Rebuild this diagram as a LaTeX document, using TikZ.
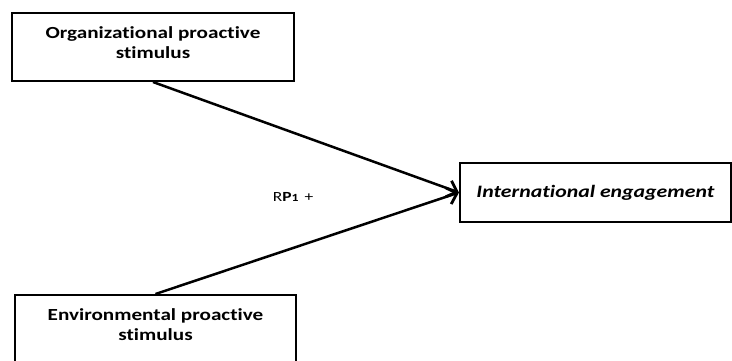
\documentclass[tikz,border=0pt]{standalone}
\usepackage{fontspec}
\setmainfont{Carlito}[FakeStretch=1.25, Ligatures=NoCommon]
\usetikzlibrary{arrows.meta}
\begin{document}
\begin{tikzpicture}[x=1bp,y=-1bp,
  box/.style={draw, line width=2bp, inner sep=0pt, align=center,
    font=\bfseries\fontsize{17}{20}\selectfont},
  link/.style={line width=2.5bp,
    -{Straight Barb[length=9bp,width=17bp,line width=2.8bp]}},
  lbl/.style={inner sep=0pt, font=\fontsize{14}{16}\selectfont}]
  \useasboundingbox (0,0) rectangle (732,360);
  \clip (0,0) rectangle (732,360);
  % stimulus boxes and outcome box
  \node[box, minimum width=282bp, minimum height=68bp] (org) at (153,47)
    {\\[-16bp]Organizational proactive\\stimulus};
  \node[box, minimum width=281bp, minimum height=68bp] (env) at (155.5,329)
    {\\[-16bp]Environmental proactive\\stimulus};
  \node[box, minimum width=271bp, minimum height=59bp,
    font=\bfseries\itshape\fontsize{17.5}{20}\selectfont] (eng) at (595.5,192.5)
    {International engagement};
  % relations
  \draw[link] (org.south) -- (eng.west);
  \draw[link] (env.north) -- (eng.west);
  \node[lbl] (rp) at (293,197) {R\textbf{P{\fontsize{11}{12}\selectfont 1}}\hspace{6bp}+};
\end{tikzpicture}
\end{document}
